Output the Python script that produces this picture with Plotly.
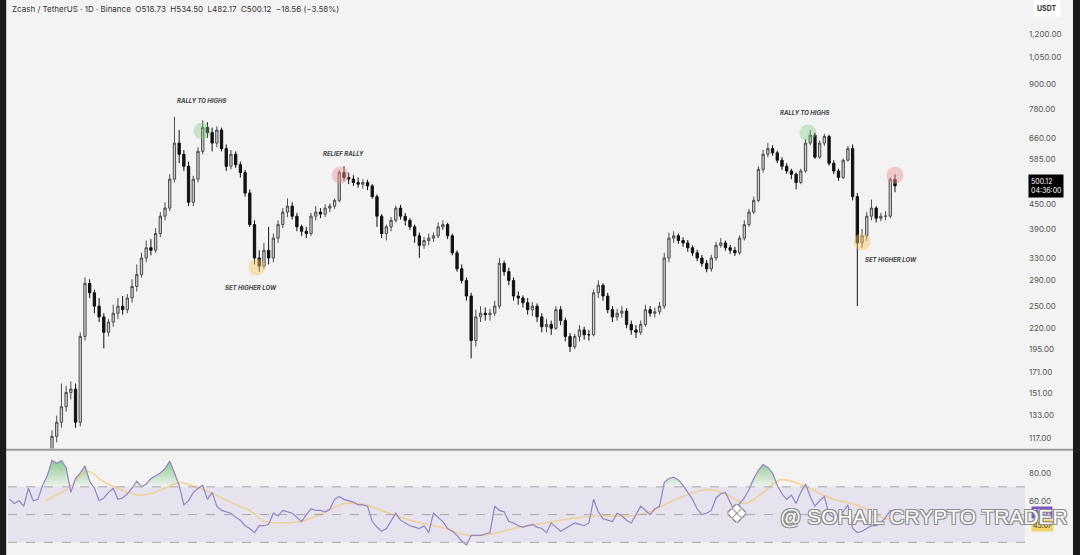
import math
import plotly.graph_objects as go

# daily candles (visible part of the chart), bar index of the first one = 9
first_bar = 9
opens = [105, 118, 128, 140, 152, 155, 128, 210, 285, 270,
         250, 235, 215, 228, 240, 250, 245, 262, 280, 300,
         330, 350, 345, 380, 420, 440, 520, 640, 600, 560,
         455, 520, 610, 700, 680, 640, 690, 620, 560, 600,
         565, 540, 480, 400, 330, 315, 345, 330, 370, 400,
         430, 445, 420, 395, 385, 380, 420, 430, 425, 440,
         445, 460, 540, 525, 520, 510, 505, 510, 500, 470,
         420, 380, 395, 410, 440, 420, 410, 395, 375, 355,
         365, 370, 375, 395, 400, 375, 340, 310, 290, 265,
         205, 235, 240, 238, 240, 250, 320, 305, 290, 265,
         262, 255, 245, 250, 235, 222, 225, 220, 245, 230,
         210, 198, 210, 218, 212, 212, 270, 282, 265, 245,
         235, 240, 243, 225, 218, 215, 225, 245, 240, 242,
         250, 330, 370, 375, 365, 360, 350, 340, 330, 320,
         310, 330, 355, 360, 350, 345, 340, 370, 400, 430,
         460, 550, 600, 620, 605, 580, 560, 545, 535, 510,
         545, 640, 670, 590, 640, 665, 570, 545, 525, 580,
         620, 470, 360, 375, 420, 440, 415, 420, 420, 518.73]
highs = [122, 133, 160, 158, 162, 160, 215, 295, 292, 275,
         262, 240, 232, 252, 262, 265, 268, 292, 318, 340,
         365, 368, 392, 430, 455, 535, 745, 690, 615, 575,
         530, 625, 730, 722, 700, 705, 700, 635, 615, 610,
         575, 548, 490, 410, 345, 360, 395, 380, 410, 440,
         465, 455, 428, 400, 395, 428, 445, 440, 450, 452,
         465, 548, 560, 540, 532, 525, 520, 518, 505, 476,
         425, 400, 418, 446, 448, 428, 415, 400, 382, 372,
         380, 382, 405, 410, 404, 380, 345, 318, 295, 270,
         245, 250, 248, 246, 258, 330, 325, 312, 295, 272,
         266, 262, 256, 254, 240, 232, 230, 250, 250, 234,
         214, 213, 224, 222, 218, 275, 290, 285, 270, 250,
         246, 250, 247, 230, 224, 230, 252, 250, 248, 256,
         340, 382, 385, 380, 372, 366, 355, 346, 336, 326,
         336, 362, 370, 365, 356, 352, 376, 410, 438, 470,
         560, 615, 640, 632, 612, 590, 570, 552, 540, 552,
         655, 690, 680, 650, 675, 672, 580, 552, 585, 630,
         635, 480, 390, 430, 462, 445, 428, 432, 525, 534.50]
lows = [100, 114, 124, 136, 146, 124, 125, 205, 262, 240,
        228, 196, 210, 222, 232, 238, 240, 255, 272, 295,
        322, 335, 340, 372, 410, 432, 510, 570, 545, 445,
        445, 510, 600, 660, 610, 625, 610, 545, 550, 555,
        525, 470, 395, 318, 305, 310, 318, 322, 360, 392,
        418, 412, 385, 375, 370, 375, 410, 415, 418, 430,
        438, 455, 515, 505, 500, 495, 492, 488, 465, 395,
        370, 365, 385, 405, 412, 398, 388, 360, 330, 348,
        355, 362, 370, 388, 368, 335, 305, 285, 258, 185,
        198, 228, 230, 230, 236, 246, 298, 282, 258, 252,
        248, 238, 236, 228, 215, 215, 212, 218, 224, 204,
        192, 195, 204, 206, 205, 210, 262, 258, 240, 228,
        230, 234, 220, 212, 208, 212, 222, 235, 234, 238,
        246, 322, 360, 358, 352, 342, 334, 324, 314, 304,
        305, 325, 350, 344, 338, 334, 336, 365, 395, 425,
        455, 540, 590, 595, 570, 548, 536, 520, 490, 505,
        540, 632, 585, 585, 630, 562, 535, 515, 520, 575,
        460, 250, 350, 365, 410, 405, 408, 410, 415, 482.17]
closes = [118, 128, 140, 152, 155, 128, 210, 285, 270, 250,
          235, 215, 228, 240, 250, 245, 262, 280, 300, 330,
          350, 345, 380, 420, 440, 520, 640, 600, 560, 455,
          520, 610, 700, 680, 640, 690, 620, 560, 600, 565,
          540, 480, 400, 330, 315, 345, 330, 370, 400, 430,
          445, 420, 395, 385, 380, 420, 430, 425, 440, 445,
          460, 540, 525, 520, 510, 505, 510, 500, 470, 420,
          380, 395, 410, 440, 420, 410, 395, 375, 355, 365,
          370, 375, 395, 400, 375, 340, 310, 290, 265, 205,
          235, 240, 238, 240, 250, 320, 305, 290, 265, 262,
          255, 245, 250, 235, 222, 225, 220, 245, 230, 210,
          198, 210, 218, 212, 212, 270, 282, 265, 245, 235,
          240, 243, 225, 218, 215, 225, 245, 240, 242, 250,
          330, 370, 375, 365, 360, 350, 340, 330, 320, 310,
          330, 355, 360, 350, 345, 340, 370, 400, 430, 460,
          550, 600, 620, 605, 580, 560, 545, 535, 510, 545,
          640, 670, 590, 640, 665, 570, 545, 525, 580, 620,
          470, 360, 375, 420, 440, 415, 420, 420, 518.73, 500.12]

# RSI (14) from bar 0
rsi = [61, 58, 60, 56, 69, 60, 61, 71, 78, 89,
       87, 89, 84, 66, 76, 80, 85, 74, 69, 60,
       62, 66, 69, 61, 62, 65, 69, 74, 70, 72,
       76, 78, 80, 83, 88.5, 80, 71, 57, 60, 66,
       69, 71, 61, 66, 56, 53, 52, 51, 48, 46,
       42, 40, 37, 42, 42, 43, 51, 49, 53, 52,
       51, 48, 45, 50, 54, 53, 53, 52, 54, 61,
       63, 61, 60, 59, 57, 57, 56, 45, 41, 38,
       40, 46, 51, 46, 44, 42, 41, 40, 42, 37,
       51, 48, 45, 40, 38, 35, 31, 28, 35, 35,
       35, 36, 37, 56, 53, 52, 45, 44, 42, 41,
       42, 43, 41, 40, 37, 44, 41, 38, 40, 42,
       44, 43, 42, 44, 61, 52, 47, 46, 45, 51,
       49, 46, 44, 50, 56, 53, 50, 54, 56, 73,
       76, 77, 75, 71, 66, 61, 54, 50, 51, 53,
       62, 65, 66, 59, 52, 58, 62, 68, 76, 82,
       86, 84, 80, 71, 65, 61, 64, 58, 66, 72,
       63, 56, 60, 63, 50, 48, 50, 52, 57, 40,
       37, 38, 40, 42, 42, 44, 48, 53, 51.42]

# RSI moving average, read at a few bars
ma_bar = [7.5, 12, 16.6, 19.8, 23.5, 27.3, 29.8, 33, 36.2, 39.4, 42.6, 46.8,
          51, 54.2, 57.4, 61.7, 65.9, 71.2, 75.5, 79.7, 85, 91.4, 97.7, 102,
          108.4, 113.7, 119, 125.4, 131.7, 136, 140.2, 144.5, 148.7, 153,
          156.2, 160.4, 163.6, 167.8, 174.2, 180.6, 185.9, 188]
ma_val = [60, 68, 81, 74, 68, 64, 65, 69, 73, 70, 66, 59,
          53, 45, 44, 45, 50, 58, 57, 52, 46, 41, 35, 36,
          41, 44, 47, 49, 49, 52, 59, 65, 68, 63,
          58, 67, 75, 72, 62, 56, 47, 46]

price_ticks = [1200, 1050, 900, 780, 660, 585, 450, 390, 330, 290, 250, 220, 195, 171, 151, 133, 117]

notes = ["RALLY TO HIGHS", "SET HIGHER LOW", "RELIEF RALLY", "RALLY TO HIGHS", "SET HIGHER LOW"]
note_bar = [40.85, 51.3, 70.8, 168.9, 187.2]
note_price = [816, 279, 604, 765, 328]

circle_bar = [40.85, 52.5, 70.2, 169.5, 181.0, 188.0]
circle_price = [686, 313, 532, 678, 362, 532]
circle_color = ["rgba(120,200,120,0.35)", "rgba(245,200,100,0.45)", "rgba(235,150,150,0.45)",
                "rgba(120,200,120,0.35)", "rgba(245,200,100,0.45)", "rgba(235,150,150,0.45)"]

zone_low, zone_high = 497, 533
zone_start, zone_end = 69.1, 195.4
last_price = 500.12

x_range = [-0.343, 216.24]
bg = "#f3f3f3"
font_name = "Inter, Liberation Sans, sans-serif"
edge = "-1px -1px 0 #8a8a8a, 1px -1px 0 #8a8a8a, -1px 1px 0 #8a8a8a, 1px 1px 0 #8a8a8a"

candle_x = list(range(first_bar, first_bar + len(closes)))
rsi_x = list(range(len(rsi)))

fig = go.Figure()

fig.add_trace(go.Candlestick(
    x=candle_x, open=opens, high=highs, low=lows, close=closes,
    increasing=dict(fillcolor="#cdcdcd", line=dict(color="#4d4d4d", width=1)),
    decreasing=dict(fillcolor="#111111", line=dict(color="#111111", width=1)),
    whiskerwidth=0, showlegend=False, hoverinfo="skip",
    xaxis="x", yaxis="y",
))

fig.add_trace(go.Scatter(
    x=circle_bar, y=circle_price, mode="markers",
    marker=dict(size=17, color=circle_color, line=dict(width=0)),
    showlegend=False, hoverinfo="skip", xaxis="x", yaxis="y",
))

# RSI panel
fig.add_trace(go.Scatter(
    x=rsi_x, y=[70] * len(rsi), mode="lines", line=dict(width=0),
    showlegend=False, hoverinfo="skip", xaxis="x2", yaxis="y2",
))
fig.add_trace(go.Scatter(
    x=rsi_x, y=[max(v, 70) for v in rsi], mode="lines", line=dict(width=0),
    fill="tonexty",
    fillgradient=dict(type="vertical", start=70, stop=90,
                      colorscale=[[0, "rgba(76,175,80,0.02)"], [1, "rgba(76,175,80,0.65)"]]),
    showlegend=False, hoverinfo="skip", xaxis="x2", yaxis="y2",
))
fig.add_trace(go.Scatter(
    x=ma_bar, y=ma_val, mode="lines", line=dict(color="rgba(242,196,100,0.6)", width=1.6, shape="spline"),
    showlegend=False, hoverinfo="skip", xaxis="x2", yaxis="y2",
))
fig.add_trace(go.Scatter(
    x=rsi_x, y=rsi, mode="lines", line=dict(color="#8f84c4", width=1.2),
    showlegend=False, hoverinfo="skip", xaxis="x2", yaxis="y2",
))

shapes = [
    # resistance zone
    dict(type="rect", xref="x", yref="y", x0=zone_start, x1=zone_end,
         y0=math.log10(zone_low), y1=math.log10(zone_high),
         fillcolor="rgba(255,228,140,0.35)", line=dict(width=0), layer="below"),
    # last price line
    dict(type="line", xref="paper", yref="y", x0=0, x1=1,
         y0=math.log10(last_price), y1=math.log10(last_price),
         line=dict(color="#9a9a9a", width=1, dash="dot")),
    # RSI band
    dict(type="rect", xref="paper", yref="y2", x0=0, x1=0.997, y0=30, y1=70,
         fillcolor="rgba(126,87,194,0.10)", line=dict(width=0), layer="below"),
    # pane separator
    dict(type="line", xref="paper", yref="paper", x0=-0.002, x1=1.044, y0=0.1895, y1=0.1895,
         line=dict(color="#9c9c9c", width=2)),
    # dark frame edges
    dict(type="rect", xref="paper", yref="paper", x0=-0.0079, x1=-0.0018, y0=-0.01, y1=1.01,
         fillcolor="#1b1b1b", line=dict(width=0)),
    dict(type="rect", xref="paper", yref="paper", x0=1.0441, x1=1.052, y0=-0.01, y1=1.01,
         fillcolor="#1b1b1b", line=dict(width=0)),
]
for lvl in [70, 50, 30]:
    shapes.append(dict(type="line", xref="paper", yref="y2", x0=0, x1=0.997, y0=lvl, y1=lvl,
                       line=dict(color="#a8a8a8", width=1, dash="dash")))

annotations = [
    dict(text="Zcash / TetherUS · 1D · Binance  O518.73  H534.50  L482.17  C500.12  −18.56 (−3.58%)",
         xref="paper", yref="paper", x=0.002, y=0.984, xanchor="left", yanchor="middle",
         showarrow=False, font=dict(size=8, color="#333333", family=font_name)),
    dict(text="<b>USDT</b>", xref="paper", yref="paper", x=1.0185, y=0.984,
         xanchor="center", yanchor="middle", showarrow=False, bgcolor="#ffffff",
         borderpad=3, font=dict(size=7, color="#333333", family=font_name)),
    dict(text="500.12<br>04:36:00", xref="paper", yref="y", x=1.0, y=math.log10(last_price),
         xanchor="left", yanchor="middle", showarrow=False, bgcolor="#000000", align="left",
         borderpad=2, font=dict(size=7, color="#ffffff", family=font_name)),
    dict(text="51.42", xref="paper", yref="y2", x=1.003, y=51.5, xanchor="left", yanchor="middle",
         showarrow=False, bgcolor="#7e57c2", borderpad=1, font=dict(size=7, color="#ffffff", family=font_name)),
    dict(text="45.67", xref="paper", yref="y2", x=1.003, y=42.5, xanchor="left", yanchor="middle",
         showarrow=False, bgcolor="#f3d36a", borderpad=1, font=dict(size=7, color="#333333", family=font_name)),
]
for t, b, p in zip(notes, note_bar, note_price):
    annotations.append(dict(text="<b><i>" + t + "</i></b>", xref="x", yref="y", x=b, y=math.log10(p),
                            showarrow=False, font=dict(size=6, color="#444444", family=font_name)))

# watermark
annotations.append(dict(text="❖", xref="paper", yref="paper", x=0.727, y=0.045, showarrow=False,
                        font=dict(size=24, color="#ffffff", family="DejaVu Sans", shadow=edge)))
annotations.append(dict(text="@ SOHAIL CRYPTO TRADER", xref="paper", yref="paper", x=1.041, y=0.045,
                        xanchor="right", showarrow=False,
                        font=dict(size=21, color="#ffffff", family="Liberation Sans", shadow=edge)))

fig.update_layout(
    width=1080, height=555,
    margin=dict(l=8, r=52, t=0, b=0),
    paper_bgcolor=bg, plot_bgcolor=bg,
    showlegend=False,
    font=dict(family=font_name),
    xaxis=dict(domain=[0, 1], anchor="y", range=x_range, visible=False,
               rangeslider=dict(visible=False), showgrid=False),
    yaxis=dict(domain=[0.1919, 1], anchor="x", type="log", range=[2.0415, 3.1645], side="right",
               tickvals=price_ticks, ticktext=[f"{v:,.2f}" for v in price_ticks],
               showgrid=False, zeroline=False, ticks="", showline=False,
               tickfont=dict(size=8, color="#555555")),
    xaxis2=dict(domain=[0, 1], anchor="y2", range=x_range, visible=False, showgrid=False),
    yaxis2=dict(domain=[0, 0.1865], anchor="x2", range=[20.9, 95.45], side="right",
                tickvals=[80, 60, 20], ticktext=["80.00", "60.00", "20.00"],
                showgrid=False, zeroline=False, ticks="", showline=False,
                tickfont=dict(size=8, color="#555555")),
    shapes=shapes,
    annotations=annotations,
)

fig.write_html("out.html", config={"displayModeBar": False},
               post_script="document.body.style.margin='0';document.body.style.overflow='hidden';")
